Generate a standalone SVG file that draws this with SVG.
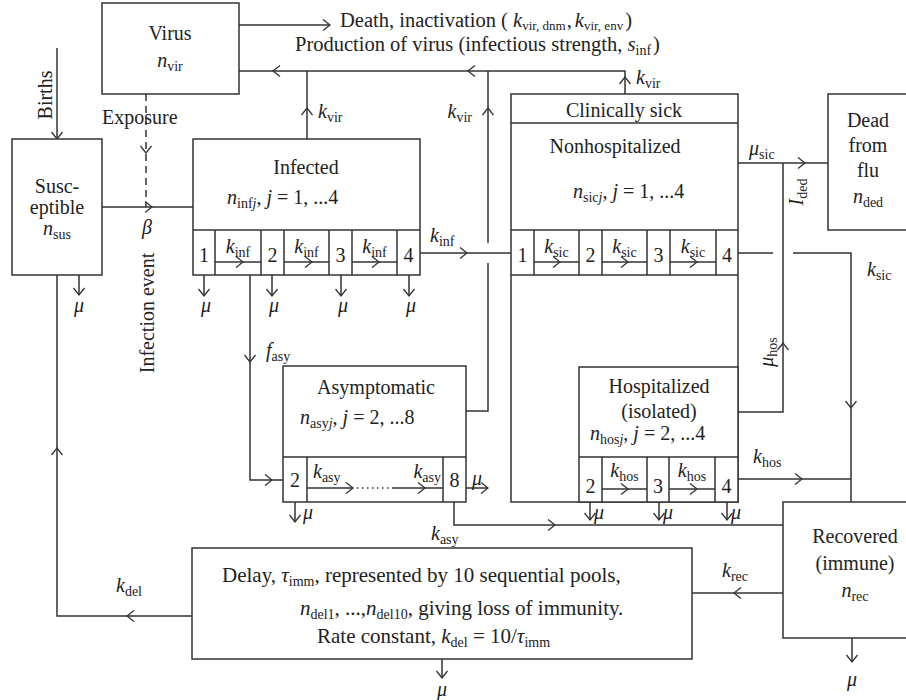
<svg xmlns="http://www.w3.org/2000/svg" width="906" height="700" viewBox="0 0 906 700">
<defs>
<path id="ar" d="M-7,-5.5 L0,0 L-7,5.5" fill="none" stroke="#333" stroke-width="1.3"/>
</defs>
<style>
.box{fill:#fff;stroke:#333;stroke-width:1.5}
.ln{fill:none;stroke:#333;stroke-width:1.5}
.dash{stroke-dasharray:7,5}
.dot{stroke-dasharray:1.5,3.5}
text{font-family:"Liberation Serif","Times New Roman",serif;font-size:20px;fill:#222}
.c{text-anchor:middle}
.e{text-anchor:end}
.i{font-style:italic}
.s{font-size:14px}
.s2{font-size:13px}
.d{font-size:21px}
.top{font-size:20.5px}
</style>
<rect width="906" height="700" fill="#fff"/>

<g id="connectors">
<path class="ln" d="M57,48 V139"/>
<use href="#ar" transform="translate(57,139) rotate(90)"/>
<path class="ln" d="M239,25 H330"/>
<use href="#ar" transform="translate(330,25)"/>
<path class="ln" d="M239,71 H625 V94"/>
<use href="#ar" transform="translate(273,71) rotate(180)"/>
<use href="#ar" transform="translate(468,71) rotate(180)"/>
<use href="#ar" transform="translate(625,77) rotate(-90)"/>
<path class="ln" d="M307,139 V71"/>
<use href="#ar" transform="translate(307,108) rotate(-90)"/>
<path class="ln" d="M466,411 H488 V263 M488,243 V71"/>
<use href="#ar" transform="translate(488,108) rotate(-90)"/>
<path class="ln dash" d="M146,94 V207"/>
<use href="#ar" transform="translate(146,153) rotate(90)"/>
<path class="ln" d="M102,207 H204 V230"/>
<use href="#ar" transform="translate(152,207)"/>
<path class="ln" d="M79,275 V295"/>
<use href="#ar" transform="translate(79,295) rotate(90)"/>
<path class="ln" d="M192,616 H57 V275"/>
<use href="#ar" transform="translate(127,616) rotate(180)"/>
<use href="#ar" transform="translate(57,448) rotate(-90)"/>
<path class="ln" d="M204,275 V296 M272,275 V296 M341,275 V296 M409,275 V296"/>
<use href="#ar" transform="translate(204,296) rotate(90)"/>
<use href="#ar" transform="translate(272,296) rotate(90)"/>
<use href="#ar" transform="translate(341,296) rotate(90)"/>
<use href="#ar" transform="translate(409,296) rotate(90)"/>
<path class="ln" d="M250,262 V480 H283"/>
<use href="#ar" transform="translate(250,362) rotate(90)"/>
<use href="#ar" transform="translate(272,480)"/>
<path class="ln" d="M420,253 H511"/>
<use href="#ar" transform="translate(467,253)"/>
<path class="ln" d="M466,488 H488"/>
<use href="#ar" transform="translate(488,488)"/>
<path class="ln" d="M295,502 V522"/>
<use href="#ar" transform="translate(295,522) rotate(90)"/>
<path class="ln" d="M454,502 V525 H783"/>
<use href="#ar" transform="translate(555,525)"/>
<path class="ln" d="M523,275 V296 M590,275 V296 M658,275 V296 M728,275 V296"/>
<use href="#ar" transform="translate(523,296) rotate(90)"/>
<use href="#ar" transform="translate(590,296) rotate(90)"/>
<use href="#ar" transform="translate(658,296) rotate(90)"/>
<use href="#ar" transform="translate(728,296) rotate(90)"/>
<path class="ln" d="M565,262 V480 H579"/>
<use href="#ar" transform="translate(565,365) rotate(90)"/>
<path class="ln" d="M590,502 V520 M659,502 V520 M727,502 V520"/>
<use href="#ar" transform="translate(590,520) rotate(90)"/>
<use href="#ar" transform="translate(659,520) rotate(90)"/>
<use href="#ar" transform="translate(727,520) rotate(90)"/>
<path class="ln" d="M738,253 H773 M793,253 H851 V502"/>
<use href="#ar" transform="translate(851,408) rotate(90)"/>
<path class="ln" d="M738,163 H828"/>
<use href="#ar" transform="translate(805,163)"/>
<path class="ln" d="M738,412 H783 V163"/>
<use href="#ar" transform="translate(783,343) rotate(-90)"/>
<path class="ln" d="M738,479 H851"/>
<use href="#ar" transform="translate(802,479)"/>
<path class="ln" d="M783,593 H692"/>
<use href="#ar" transform="translate(734,593) rotate(180)"/>
<path class="ln" d="M442,659 V678"/>
<use href="#ar" transform="translate(442,678) rotate(90)"/>
<path class="ln" d="M852,638 V662"/>
<use href="#ar" transform="translate(852,662) rotate(90)"/>
</g>

<g id="labels">
<text transform="translate(52,95) rotate(-90)" class="c">Births</text>
<text x="102" y="124">Exposure</text>
<text x="147" y="234" class="c i">β</text>
<text transform="translate(154,313) rotate(-90)" class="c">Infection event</text>
<text x="340" y="27" class="top">Death, inactivation ( <tspan class="i">k</tspan><tspan class="s2" dy="2.5">vir, dnm</tspan><tspan dy="-2.5" dx="1">,</tspan><tspan class="i" dx="3">k</tspan><tspan class="s2" dy="2.5">vir, env</tspan><tspan dy="-2.5" dx="2">)</tspan></text>
<text x="295" y="51" class="top">Production of virus (infectious strength, <tspan class="i">s</tspan><tspan class="s" dy="4">inf</tspan><tspan dy="-4" dx="2">)</tspan></text>
<text x="318" y="118"><tspan class="i">k</tspan><tspan class="s" dy="4">vir</tspan></text>
<text x="472" y="118" class="e"><tspan class="i">k</tspan><tspan class="s" dy="4">vir</tspan></text>
<text x="636" y="84"><tspan class="i">k</tspan><tspan class="s" dy="4">vir</tspan></text>
<text x="79" y="312" class="c i">μ</text>
<text x="206" y="312" class="c i">μ</text>
<text x="274" y="312" class="c i">μ</text>
<text x="343" y="312" class="c i">μ</text>
<text x="411" y="312" class="c i">μ</text>
<text x="266" y="357"><tspan class="i">f</tspan><tspan class="s" dy="4">asy</tspan></text>
<text x="430" y="242"><tspan class="i">k</tspan><tspan class="s" dy="4">inf</tspan></text>
<text x="477" y="485" class="c i">μ</text>
<text x="303" y="519" class="i">μ</text>
<text x="431" y="540"><tspan class="i">k</tspan><tspan class="s" dy="4">asy</tspan></text>
<text x="525" y="312" class="c i">μ</text>
<text x="592" y="312" class="c i">μ</text>
<text x="660" y="312" class="c i">μ</text>
<text x="730" y="312" class="c i">μ</text>
<text x="575" y="357"><tspan class="i">f</tspan><tspan class="s" dy="4">hos</tspan></text>
<text transform="translate(558,428) rotate(-90)" class="c"><tspan class="i">I</tspan><tspan class="s" dy="4">hos2</tspan></text>
<text x="594" y="519" class="i">μ</text>
<text x="663" y="519" class="i">μ</text>
<text x="731" y="519" class="i">μ</text>
<text x="867" y="276"><tspan class="i">k</tspan><tspan class="s" dy="4">sic</tspan></text>
<text x="749" y="155"><tspan class="i">μ</tspan><tspan class="s" dy="4">sic</tspan></text>
<text transform="translate(803,192) rotate(-90)" class="c"><tspan class="i">I</tspan><tspan class="s" dy="4">ded</tspan></text>
<text transform="translate(773,352) rotate(-90)" class="c"><tspan class="i">μ</tspan><tspan class="s" dy="4">hos</tspan></text>
<text x="753" y="463"><tspan class="i">k</tspan><tspan class="s" dy="4">hos</tspan></text>
<text x="722" y="577"><tspan class="i">k</tspan><tspan class="s" dy="4">rec</tspan></text>
<text x="116" y="592"><tspan class="i">k</tspan><tspan class="s" dy="4">del</tspan></text>
<text x="442" y="696" class="c i">μ</text>
<text x="852" y="686" class="c i">μ</text>
</g>

<g id="virus">
<rect class="box" x="102" y="3" width="137" height="91"/>
<text x="170" y="40" class="c">Virus</text>
<text x="170" y="67" class="c"><tspan class="i">n</tspan><tspan class="s" dy="4">vir</tspan></text>
</g>

<g id="susceptible">
<rect class="box" x="12" y="139" width="90" height="136"/>
<text x="57" y="193" class="c">Susc-</text>
<text x="57" y="214" class="c">eptible</text>
<text x="57" y="235" class="c"><tspan class="i">n</tspan><tspan class="s" dy="4">sus</tspan></text>
</g>

<g id="infected">
<rect class="box" x="193" y="139" width="227" height="136"/>
<path class="ln" d="M193,230 H420 M215,230 V275 M261,230 V275 M284,230 V275 M329,230 V275 M352,230 V275 M397,230 V275 M215,262 H261 M284,262 H329 M352,262 H397"/>
<use href="#ar" transform="translate(243,262)"/>
<use href="#ar" transform="translate(312,262)"/>
<use href="#ar" transform="translate(379,262)"/>
<text x="306" y="174" class="c">Infected</text>
<text x="227" y="204"><tspan class="i">n</tspan><tspan class="s" dy="4">inf</tspan><tspan class="s i">j</tspan><tspan dy="-4">, </tspan><tspan class="i">j</tspan> = 1, ...4</text>
<text x="204" y="262" class="c">1</text>
<text x="272.5" y="262" class="c">2</text>
<text x="340.5" y="262" class="c">3</text>
<text x="408.5" y="262" class="c">4</text>
<text x="238" y="253" class="c"><tspan class="i">k</tspan><tspan class="s" dy="4">inf</tspan></text>
<text x="306.5" y="253" class="c"><tspan class="i">k</tspan><tspan class="s" dy="4">inf</tspan></text>
<text x="374.5" y="253" class="c"><tspan class="i">k</tspan><tspan class="s" dy="4">inf</tspan></text>
</g>

<g id="asymptomatic">
<rect class="box" x="283" y="366" width="183" height="136"/>
<path class="ln" d="M283,457 H466 M307,457 V502 M443,457 V502 M307,488 H353 M393,488 H443"/>
<path class="ln dot" d="M357,488 H393"/>
<use href="#ar" transform="translate(353,488)"/>
<use href="#ar" transform="translate(425,488)"/>
<text x="376" y="394" class="c">Asymptomatic</text>
<text x="300" y="424"><tspan class="i">n</tspan><tspan class="s" dy="4">asy</tspan><tspan class="s i">j</tspan><tspan dy="-4">, </tspan><tspan class="i">j</tspan> = 2, ...8</text>
<text x="295" y="487" class="c">2</text>
<text x="454.5" y="487" class="c">8</text>
<text x="313" y="478"><tspan class="i">k</tspan><tspan class="s" dy="4">asy</tspan></text>
<text x="441" y="478" class="e"><tspan class="i">k</tspan><tspan class="s" dy="4">asy</tspan></text>
</g>

<g id="clinically-sick">
<rect class="box" x="511" y="94" width="227" height="408"/>
<path class="ln" d="M511,123 H738 M511,230 H738 M511,275 H738 M534,230 V275 M579,230 V275 M602,230 V275 M647,230 V275 M670,230 V275 M716,230 V275 M534,262 H579 M602,262 H647 M670,262 H716"/>
<use href="#ar" transform="translate(560,262)"/>
<use href="#ar" transform="translate(628,262)"/>
<use href="#ar" transform="translate(697,262)"/>
<text x="624" y="117" class="c">Clinically sick</text>
<text x="615" y="153" class="c">Nonhospitalized</text>
<text x="573" y="198"><tspan class="i">n</tspan><tspan class="s" dy="4">sic</tspan><tspan class="s i">j</tspan><tspan dy="-4">, </tspan><tspan class="i">j</tspan> = 1, ...4</text>
<text x="522.5" y="262" class="c">1</text>
<text x="590.5" y="262" class="c">2</text>
<text x="658.5" y="262" class="c">3</text>
<text x="727" y="262" class="c">4</text>
<text x="556.5" y="253" class="c"><tspan class="i">k</tspan><tspan class="s" dy="4">sic</tspan></text>
<text x="624.5" y="253" class="c"><tspan class="i">k</tspan><tspan class="s" dy="4">sic</tspan></text>
<text x="693" y="253" class="c"><tspan class="i">k</tspan><tspan class="s" dy="4">sic</tspan></text>
</g>

<g id="hospitalized">
<rect class="box" x="579" y="367" width="159" height="135"/>
<path class="ln" d="M579,457 H738 M602,457 V502 M647,457 V502 M669,457 V502 M715,457 V502 M602,489 H647 M669,489 H715"/>
<use href="#ar" transform="translate(628,489)"/>
<use href="#ar" transform="translate(697,489)"/>
<text x="659" y="393" class="c">Hospitalized</text>
<text x="659" y="418" class="c">(isolated)</text>
<text x="590" y="440"><tspan class="i">n</tspan><tspan class="s" dy="4">hos</tspan><tspan class="s i">j</tspan><tspan dy="-4">, </tspan><tspan class="i">j</tspan> = 2, ...4</text>
<text x="590.5" y="493" class="c">2</text>
<text x="658" y="493" class="c">3</text>
<text x="726.5" y="493" class="c">4</text>
<text x="624.5" y="477" class="c"><tspan class="i">k</tspan><tspan class="s" dy="4">hos</tspan></text>
<text x="692" y="477" class="c"><tspan class="i">k</tspan><tspan class="s" dy="4">hos</tspan></text>
</g>

<g id="dead">
<rect class="box" x="828" y="94" width="90" height="136"/>
<text x="868" y="127" class="c">Dead</text>
<text x="868" y="152" class="c">from</text>
<text x="868" y="177" class="c">flu</text>
<text x="868" y="203" class="c"><tspan class="i">n</tspan><tspan class="s" dy="4">ded</tspan></text>
</g>

<g id="recovered">
<rect class="box" x="783" y="502" width="130" height="136"/>
<text x="855" y="543" class="c">Recovered</text>
<text x="855" y="570" class="c">(immune)</text>
<text x="855" y="597" class="c"><tspan class="i">n</tspan><tspan class="s" dy="4">rec</tspan></text>
</g>

<g id="delay">
<rect class="box" x="192" y="548" width="500" height="111"/>
<text x="222" y="582" class="d">Delay, <tspan class="i">τ</tspan><tspan class="s" dy="4">imm</tspan><tspan dy="-4">, represented by 10 sequential pools,</tspan></text>
<text x="300" y="615" class="d"><tspan class="i">n</tspan><tspan class="s" dy="4">del1</tspan><tspan dy="-4">, ...,</tspan><tspan class="i">n</tspan><tspan class="s" dy="4">del10</tspan><tspan dy="-4">, giving loss of immunity.</tspan></text>
<text x="317" y="643" class="d">Rate constant, <tspan class="i">k</tspan><tspan class="s" dy="4">del</tspan><tspan dy="-4"> = 10/</tspan><tspan class="i">τ</tspan><tspan class="s" dy="4">imm</tspan></text>
</g>
</svg>
